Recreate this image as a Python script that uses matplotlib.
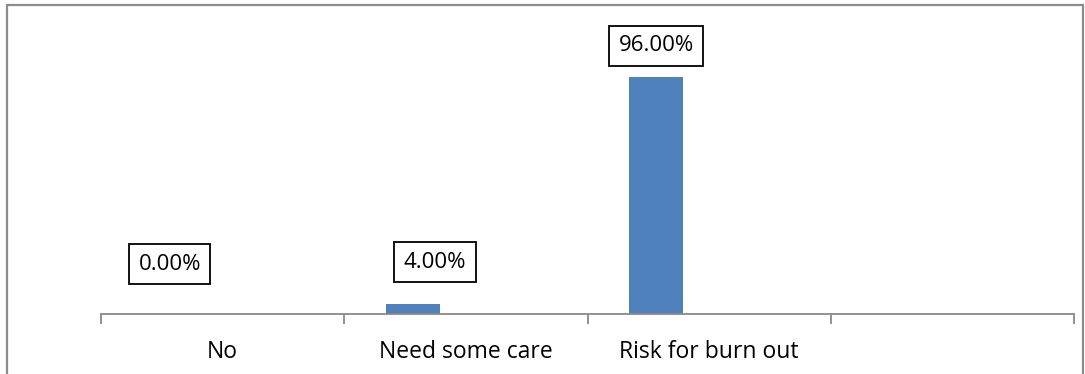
import matplotlib.pyplot as plt
from matplotlib.patches import Rectangle

# data
categories = ['No', 'Need some care', 'Risk for burn out', '']
values = [0.0, 4.0, 96.0, 0.0]
labels = ['0.00%', '4.00%', '96.00%']

plt.rcParams['font.family'] = ['Open Sans', 'DejaVu Sans']

fig = plt.figure(figsize=(10.85, 3.74), dpi=100)
ax = fig.add_axes([101/1085, 60/374, 973/1085, 246.9/374])

# bars sit left of category centre
off = -0.217
w = 0.222
xs = [i + off for i in range(len(categories))]
ax.bar(xs[:3], values[:3], width=w, color='#4F81BD')

# value labels in boxes
lab_dx = [0.0, 0.09, 0.0]
lab_dy = [50, 42, 31]  # pixels above bar top
for i, t in enumerate(labels):
    ax.annotate(t, xy=(xs[i] + lab_dx[i], values[i]),
                xytext=(0, lab_dy[i] * 72 / 100), textcoords='offset points',
                ha='center', va='center', fontsize=16, annotation_clip=False,
                bbox=dict(boxstyle='square,pad=0.42', fc='white', ec='black', lw=1.3))

ax.set_xlim(-0.5, len(categories) - 0.5)
ax.set_ylim(0, 100)

for s in ['top', 'right', 'left']:
    ax.spines[s].set_visible(False)
ax.spines['bottom'].set_color('#898989')
ax.spines['bottom'].set_linewidth(1.3)

ax.set_yticks([])
ax.set_xticks([i - 0.5 for i in range(len(categories) + 1)])
ax.set_xticklabels([])
ax.tick_params(axis='x', direction='out', length=7.5, width=1.3, color='#898989')
ax.set_xticks(range(len(categories)), minor=True)
ax.set_xticklabels(categories, minor=True, fontsize=16.5)
ax.tick_params(axis='x', which='minor', length=0, pad=19)

# outer border
fig.add_artist(Rectangle((7/1085, -0.05), 1076/1085, (374 - 5)/374 + 0.05,
                         transform=fig.transFigure, fill=False,
                         ec='#8c8c8c', lw=1.6))

fig.savefig('out.png', dpi=100)
